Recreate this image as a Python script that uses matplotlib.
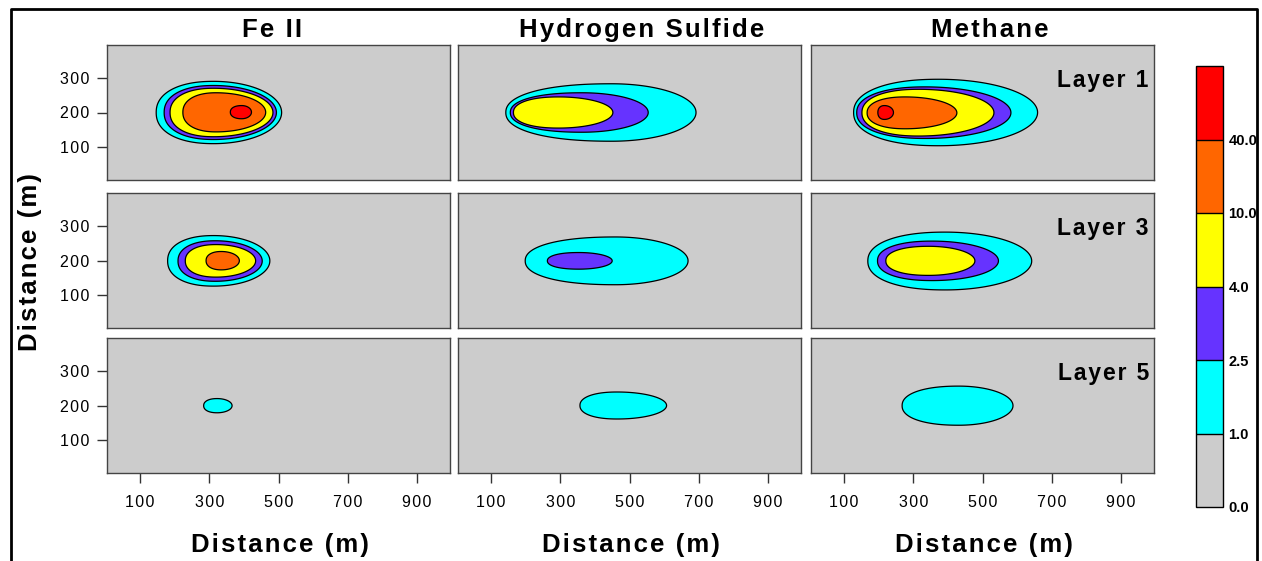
import matplotlib
matplotlib.use("Agg")
import matplotlib.pyplot as plt
import numpy as np
from matplotlib.colors import ListedColormap, BoundaryNorm
from matplotlib.cm import ScalarMappable
from matplotlib.lines import Line2D

# concentration classes (lower bounds) and colour for each class
levels = [0.0, 1.0, 2.5, 4.0, 10.0, 40.0]
level_top = 100.0
level_colors = ["#cccccc", "#00ffff", "#6633ff", "#ffff00", "#ff6600", "#ff0000"]

species = ["Fe II", "Hydrogen Sulfide", "Methane"]
layers = ["Layer 1", "Layer 3", "Layer 5"]
x_ticks = [100, 300, 500, 700, 900]
y_ticks = [100, 200, 300]

# plume contours: (level, x_left, x_widest, x_right, y_low, y_high) in metres
fe2_layer1 = [(1.0, 147, 313, 509, 110, 290),
              (2.5, 170, 313, 494, 122, 278),
              (4.0, 187, 313, 484, 130, 270),
              (10.0, 224, 320, 463, 144, 257),
              (40.0, 361, 394, 422, 182, 220)]
h2s_layer1 = [(1.0, 143, 449, 692, 117, 283),
              (2.5, 156, 363, 554, 143, 257),
              (4.0, 165, 296, 452, 155, 245)]
ch4_layer1 = [(1.0, 128, 374, 659, 104, 296),
              (2.5, 137, 335, 582, 125, 274),
              (4.0, 152, 316, 533, 132, 267),
              (10.0, 167, 277, 426, 153, 245),
              (40.0, 198, 217, 243, 180, 220)]
fe2_layer3 = [(1.0, 180, 313, 475, 126, 272),
              (2.5, 210, 318, 453, 140, 257),
              (4.0, 231, 320, 434, 152, 246),
              (10.0, 291, 335, 387, 173, 226)]
h2s_layer3 = [(1.0, 199, 460, 669, 130, 268),
              (2.5, 263, 354, 450, 175, 223)]
ch4_layer3 = [(1.0, 169, 393, 642, 115, 282),
              (2.5, 197, 355, 546, 142, 256),
              (4.0, 221, 345, 478, 157, 241)]
fe2_layer5 = [(1.0, 284, 323, 366, 179, 220)]
h2s_layer5 = [(1.0, 357, 465, 607, 161, 239)]
ch4_layer5 = [(1.0, 268, 432, 588, 143, 256)]

panels = [[fe2_layer1, h2s_layer1, ch4_layer1],
          [fe2_layer3, h2s_layer3, ch4_layer3],
          [fe2_layer5, h2s_layer5, ch4_layer5]]

plt.rcParams['font.family'] = ['Liberation Sans', 'DejaVu Sans']

cmap = ListedColormap(level_colors)
norm = BoundaryNorm(levels + [level_top], cmap.N)


def spaced(s):
    # widen the lettering a little with hair spaces
    return "\u200a".join(s)


def plume_outline(x_left, x_mid, x_right, y_low, y_high, n=240):
    # egg shaped closed curve: slightly blunter on the upstream side
    t = np.linspace(0, 2 * np.pi, n)
    c, s = np.cos(t), np.sin(t)
    yc = (y_low + y_high) / 2.0
    ry = (y_high - y_low) / 2.0
    rx = np.where(c >= 0, x_right - x_mid, x_mid - x_left)
    p = np.where(c >= 0, 2.0, 2.25)
    xs = x_mid + rx * np.sign(c) * np.abs(c) ** (2.0 / p)
    ys = yc + ry * np.sign(s) * np.abs(s) ** (2.0 / p)
    return xs, ys


W, H = 1262, 561
fig = plt.figure(figsize=(W / 100, H / 100), dpi=100)

col_left = [107, 458, 811]
row_top = [45, 193, 338]
ax_w, ax_h = 343, 135

for r in range(3):
    for c in range(3):
        ax = fig.add_axes([col_left[c] / W, 1 - (row_top[r] + ax_h) / H, ax_w / W, ax_h / H])
        ax.set_facecolor(cmap(norm(0.0)))
        for lev, xl, xm, xr, yl, yh in panels[r][c]:
            xs, ys = plume_outline(xl, xm, xr, yl, yh)
            ax.fill(xs, ys, facecolor=cmap(norm(lev)), edgecolor="black", linewidth=0.9)
        ax.set_xlim(5, 995)
        ax.set_ylim(5, 395)
        for sp in ax.spines.values():
            sp.set_color("#444444")
            sp.set_linewidth(1.0)
        ax.tick_params(direction="out", length=7, width=1, color="#333333",
                       labelsize=11.5, pad=6)
        if r == 2:
            ax.set_xticks(x_ticks)
            ax.set_xticklabels([spaced(str(v)) for v in x_ticks])
            ax.tick_params(axis="x", pad=9)
        else:
            ax.set_xticks([])
        if c == 0:
            ax.set_yticks(y_ticks)
            ax.set_yticklabels([spaced(str(v)) for v in y_ticks])
        else:
            ax.set_yticks([])
        if c == 2:
            ax.text(0.985, 0.74, spaced(layers[r]), transform=ax.transAxes, ha="right",
                    va="center", fontsize=16.5, fontweight="bold")

# column headings and axis titles
title_x = [272, 642, 990]
for c in range(3):
    fig.text(title_x[c] / W, 1 - 30 / H, spaced(species[c]), ha="center", va="center",
             fontsize=18.5, fontweight="bold")
    fig.text((col_left[c] + 173) / W, 1 - 545 / H, spaced("Distance (m)"), ha="center",
             va="center", fontsize=18.5, fontweight="bold")
fig.text(30 / W, 1 - 262 / H, spaced("Distance (m)"), ha="center", va="center",
         rotation=90, fontsize=18.5, fontweight="bold")

# colour scale
cax = fig.add_axes([1196 / W, 1 - 507 / H, 27 / W, 441 / H])
cb = fig.colorbar(ScalarMappable(norm=norm, cmap=cmap), cax=cax,
                  ticks=levels, spacing="uniform", drawedges=True)
cb.minorticks_off()
cb.outline.set_linewidth(1.0)
cb.dividers.set_linewidth(1.0)
cax.tick_params(length=0, pad=4)
cax.set_yticklabels([f"{v:.1f}" for v in levels], fontsize=10.5, fontweight="bold")

# outer frame
x0, x1, yt = 10.5 / W, 1257 / W, 1 - 9 / H
fig.add_artist(Line2D([x0, x0, x1, x1], [-0.05, yt, yt, -0.05],
                      transform=fig.transFigure, color="black", linewidth=2))

fig.savefig("out.png", dpi=100)
